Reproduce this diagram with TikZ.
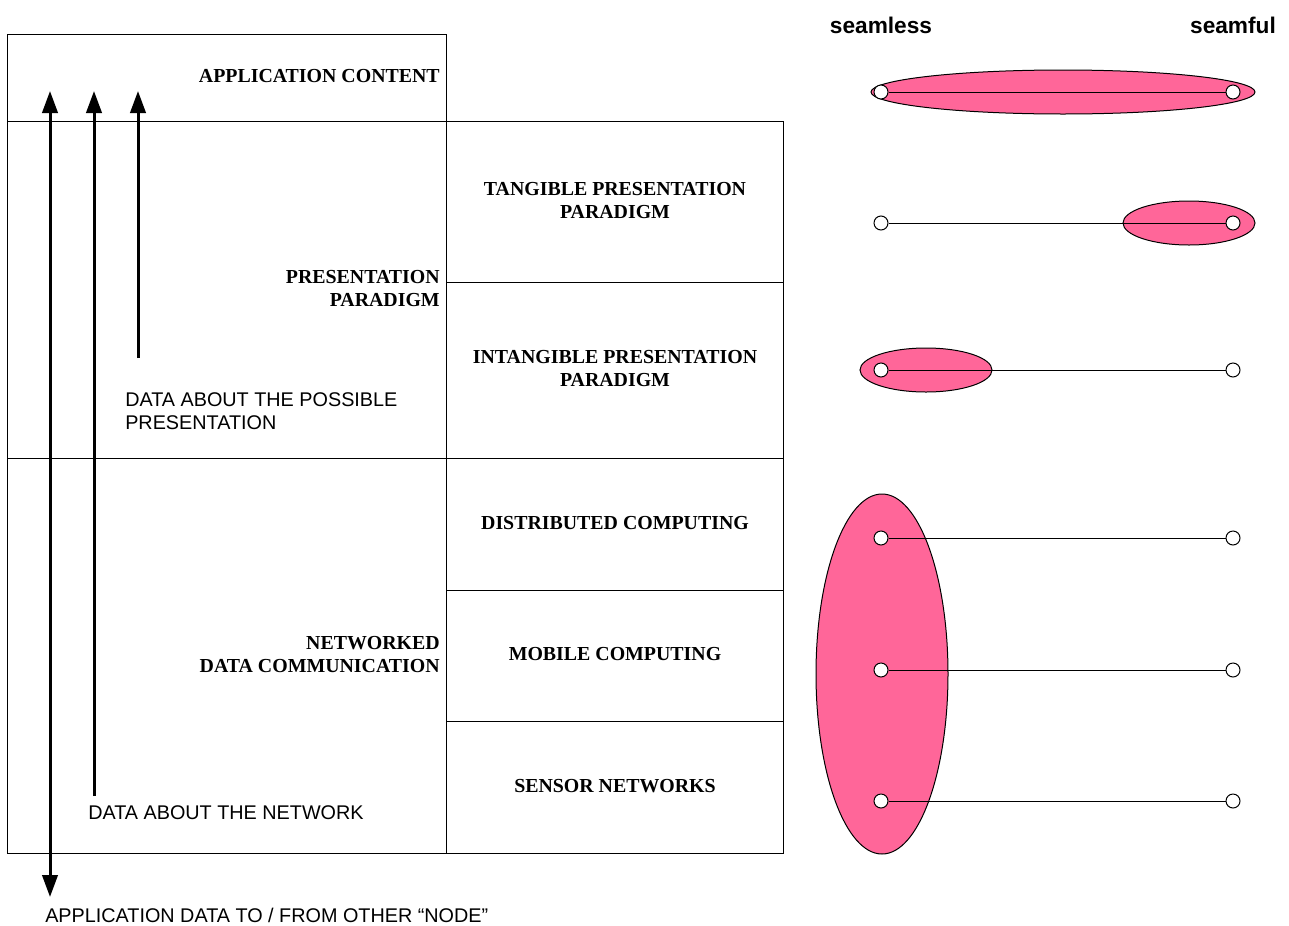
\documentclass[tikz,border=0pt]{standalone}
\usepackage{fontspec}
\setmainfont{Liberation Serif}
\setsansfont{Liberation Sans}
\usetikzlibrary{arrows.meta}
\definecolor{pinkfill}{RGB}{255,102,153}
\tikzset{
 lbl/.style={font=\fontsize{14.9}{17.25}\selectfont\bfseries, inner sep=0pt, align=center},
 lblr/.style={lbl, align=right, anchor=east},
 note/.style={font=\fontsize{14.85}{17.25}\selectfont\sffamily, inner sep=0pt, align=left, anchor=west},
 head/.style={font=\fontsize{17}{20}\selectfont\sffamily\bfseries, inner sep=0pt},
 dot/.style={circle, draw, fill=white, minimum size=10.5pt, inner sep=0pt, line width=0.75pt},
 bigarrow/.style={line width=2.25pt, -{Triangle[length=16.5pt,width=11.5pt]}},
 twoway/.style={line width=2.25pt, {Triangle[length=16.5pt,width=11.5pt]}-{Triangle[length=16.5pt,width=11.5pt]}},
 box/.style={line width=0.7pt},
 blob/.style={draw, fill=pinkfill, line width=0.75pt},
 link/.style={line width=0.75pt},
}
\begin{document}
\begin{tikzpicture}[x=0.75pt,y=-0.75pt]
\useasboundingbox (0,0) rectangle (1289,925);
% boxes
\draw[box] (7,34) rectangle (446,121);
\draw[box] (7,121) rectangle (446,458);
\draw[box] (7,458) rectangle (446,853);
\draw[box] (446,121) rectangle (783,282);
\draw[box] (446,282) rectangle (783,458);
\draw[box] (446,458) rectangle (783,590);
\draw[box] (446,590) rectangle (783,721);
\draw[box] (446,721) rectangle (783,853);
% labels
\node[lblr] (appcontent) at (440,76) {APPLICATION CONTENT};
\node[lblr] (presparadigm) at (440,288.5) {PRESENTATION\\PARADIGM};
\node[lblr] (netdata) at (440,654.5) {NETWORKED\\DATA COMMUNICATION};
\node[lbl] (tangible) at (615,200.5) {TANGIBLE PRESENTATION\\PARADIGM};
\node[lbl] (intangible) at (615,368.5) {INTANGIBLE PRESENTATION\\PARADIGM};
\node[lbl] (distributed) at (615,523) {DISTRIBUTED COMPUTING};
\node[lbl] (mobile) at (615,654) {MOBILE COMPUTING};
\node[lbl] (sensor) at (615,786) {SENSOR NETWORKS};
% notes
\node[note] (notepres) at (125,411.5) {DATA ABOUT THE POSSIBLE\\PRESENTATION};
\node[note] (notenet) at (88,813) {DATA ABOUT THE NETWORK};
\node[note] (noteapp) at (45,915) {APPLICATION DATA TO / FROM OTHER “NODE”};
% arrows
\coordinate (a1top) at (50,91);
\coordinate (a1bot) at (50,897);
\coordinate (a2top) at (94,91);
\coordinate (a2bot) at (94,796);
\coordinate (a3top) at (138,91);
\coordinate (a3bot) at (138,358);
\draw[twoway] (a1bot) -- (a1top);
\draw[bigarrow] (a2bot) -- (a2top);
\draw[bigarrow] (a3bot) -- (a3top);
% headings
\node[head] (seamless) at (881,25) {seamless};
\node[head] (seamful) at (1233,25) {seamful};
% ellipses
\draw[blob] (1063,92) ellipse [x radius=144pt, y radius=16.5pt];
\draw[blob] (1189,223) ellipse [x radius=49.5pt, y radius=16.5pt];
\draw[blob] (926,370) ellipse [x radius=49.5pt, y radius=16.5pt];
\draw[blob] (882,674) ellipse [x radius=49.5pt, y radius=135pt];
% scales
\foreach \i/\y in {1/92,2/223,3/370,4/538,5/670,6/801}{
  \node[dot] (l\i) at (881,\y) {};
  \node[dot] (r\i) at (1233,\y) {};
  \draw[link] (l\i) -- (r\i);
}
\end{tikzpicture}
\end{document}
